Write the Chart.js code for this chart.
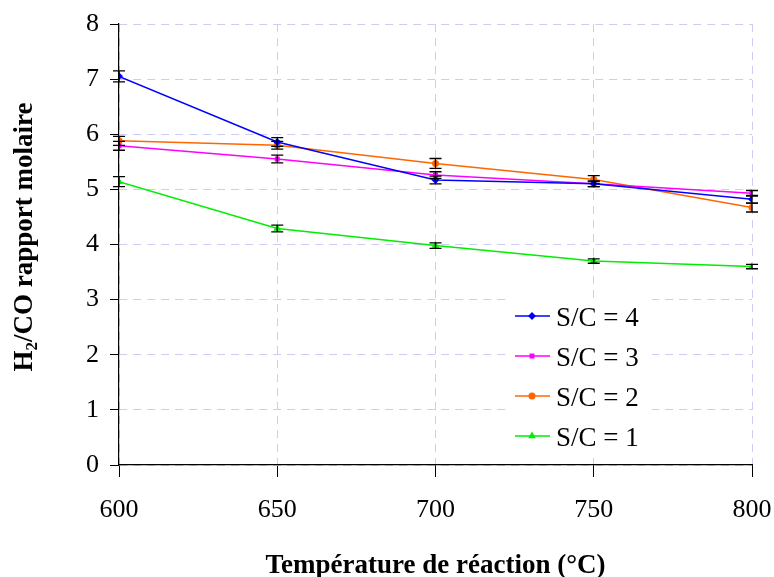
<!DOCTYPE html>
<html>
<head>
<meta charset="utf-8">
<script src="https://cdn.jsdelivr.net/npm/chart.js@4/dist/chart.umd.min.js"></script>
<style>
  html, body { margin: 0; padding: 0; background: #fff; }
  #wrap { width: 774px; height: 577px; position: relative; }
</style>
</head>
<body>
<div id="wrap"><canvas id="chart" width="774" height="577"></canvas></div>
<script>
// ===== Données =====
const temperatures = [600, 650, 700, 750, 800];
const yTicks = [0, 1, 2, 3, 4, 5, 6, 7, 8];

const sc4 = [7.05, 5.86, 5.17, 5.10, 4.82];
const sc3 = [5.79, 5.55, 5.26, 5.10, 4.93];
const sc2 = [5.88, 5.80, 5.47, 5.18, 4.67];
const sc1 = [5.14, 4.29, 3.98, 3.70, 3.60];

const err4 = [0.10, 0.08, 0.07, 0.05, 0.07];
const err3 = [0.08, 0.07, 0.06, 0.05, 0.05];
const err2 = [0.08, 0.07, 0.09, 0.07, 0.08];
const err1 = [0.09, 0.06, 0.05, 0.04, 0.04];

const labels = ['S/C = 4', 'S/C = 3', 'S/C = 2', 'S/C = 1'];
const FONT = "'Liberation Serif', 'Times New Roman', serif";

function makeSet(label, ys, errs, color, style, radius) {
    return {
        label: label,
        data: temperatures.map((t, i) => ({ x: t, y: ys[i] })),
        errors: errs,
        borderColor: color,
        backgroundColor: color,
        borderWidth: 1.5,
        pointStyle: style,
        pointRadius: radius,
        pointHoverRadius: radius,
        pointBorderWidth: 0,
        tension: 0
    };
}

// ===== Barres d'erreur =====
const errorBars = {
    id: 'errorBars',
    afterDatasetsDraw(chart) {
        const ctx = chart.ctx;
        const y = chart.scales.y;
        ctx.save();
        ctx.strokeStyle = '#000';
        ctx.lineWidth = 1.3;
        chart.data.datasets.forEach((ds, di) => {
            const meta = chart.getDatasetMeta(di);
            meta.data.forEach((pt, i) => {
                const v = ds.data[i].y, e = ds.errors[i];
                const top = y.getPixelForValue(v + e);
                const bot = y.getPixelForValue(v - e);
                ctx.beginPath();
                ctx.moveTo(pt.x, top); ctx.lineTo(pt.x, bot);
                ctx.moveTo(pt.x - 6, top); ctx.lineTo(pt.x + 6, top);
                ctx.moveTo(pt.x - 6, bot); ctx.lineTo(pt.x + 6, bot);
                ctx.stroke();
            });
        });
        ctx.restore();
    }
};

// ===== Légende + titre Y =====
const extras = {
    id: 'extras',
    afterDraw(chart) {
        const ctx = chart.ctx;
        ctx.save();
        // fond blanc de la légende
        ctx.fillStyle = '#fff';
        ctx.fillRect(506, 298, 146, 156);
        chart.data.datasets.forEach((ds, i) => {
            const cy = 316 + i * 40;
            ctx.strokeStyle = ds.borderColor;
            ctx.lineWidth = 1.5;
            ctx.beginPath();
            ctx.moveTo(515, cy); ctx.lineTo(550, cy);
            ctx.stroke();
            ctx.fillStyle = ds.backgroundColor;
            Chart.helpers.drawPoint(ctx, {
                pointStyle: ds.pointStyle, radius: ds.pointRadius, borderWidth: 0
            }, 532, cy);
            ctx.fillStyle = '#000';
            ctx.font = '27px ' + FONT;
            ctx.textBaseline = 'alphabetic';
            ctx.textAlign = 'left';
            ctx.fillText(ds.label, 556, cy + 10);
        });
        // titre Y avec indice
        ctx.translate(32, 237);
        ctx.rotate(-Math.PI / 2);
        ctx.fillStyle = '#000';
        ctx.textBaseline = 'alphabetic';
        ctx.textAlign = 'left';
        const big = 'bold 27px ' + FONT, small = 'bold 17px ' + FONT;
        ctx.font = big; const wH = ctx.measureText('H').width;
        ctx.font = small; const w2 = ctx.measureText('2').width;
        ctx.font = big; const wRest = ctx.measureText('/CO rapport molaire').width;
        const x0 = -(wH + w2 + wRest) / 2;
        ctx.fillText('H', x0, 0);
        ctx.font = small; ctx.fillText('2', x0 + wH, 5);
        ctx.font = big; ctx.fillText('/CO rapport molaire', x0 + wH + w2, 0);
        ctx.restore();
    }
};

new Chart(document.getElementById('chart'), {
    type: 'line',
    data: {
        datasets: [
            makeSet(labels[0], sc4, err4, '#0000ff', 'rectRot', 4),
            makeSet(labels[1], sc3, err3, '#ff00ff', 'rect', 3.5),
            makeSet(labels[2], sc2, err2, '#ff6600', 'circle', 3.5),
            makeSet(labels[3], sc1, err1, '#00ee00', 'triangle', 4.5)
        ]
    },
    options: {
        responsive: false,
        animation: false,
        layout: { padding: { left: 0, right: 22, top: 24, bottom: 0 } },
        plugins: { legend: { display: false }, tooltip: { enabled: false } },
        scales: {
            x: {
                type: 'linear', min: 600, max: 800,
                afterBuildTicks: s => { s.ticks = temperatures.map(v => ({ value: v })); },
                afterFit: s => { s.height = 112; s.paddingLeft = 0; s.paddingRight = 0; },
                grid: { color: '#ccccf5', lineWidth: 1, tickLength: 12, tickColor: '#000' },
                border: { color: '#000', width: 1.2, dash: [8, 6] },
                ticks: { color: '#000', font: { family: FONT, size: 26 }, padding: 18 },
                title: { display: true, text: 'Température de réaction (°C)', color: '#000',
                         font: { family: FONT, size: 27, weight: 'bold' }, padding: { top: 10, bottom: -5 } }
            },
            y: {
                type: 'linear', min: 0, max: 8,
                afterBuildTicks: s => { s.ticks = yTicks.map(v => ({ value: v })); },
                afterFit: s => { s.width = 119; s.paddingTop = 0; s.paddingBottom = 0; },
                grid: { color: '#ccccf5', lineWidth: 1, tickLength: 9, tickColor: '#000' },
                border: { color: '#000', width: 1.2, dash: [8, 6] },
                ticks: { color: '#000', font: { family: FONT, size: 26 }, padding: 11 }
            }
        }
    },
    plugins: [errorBars, extras]
});
</script>
</body>
</html>
